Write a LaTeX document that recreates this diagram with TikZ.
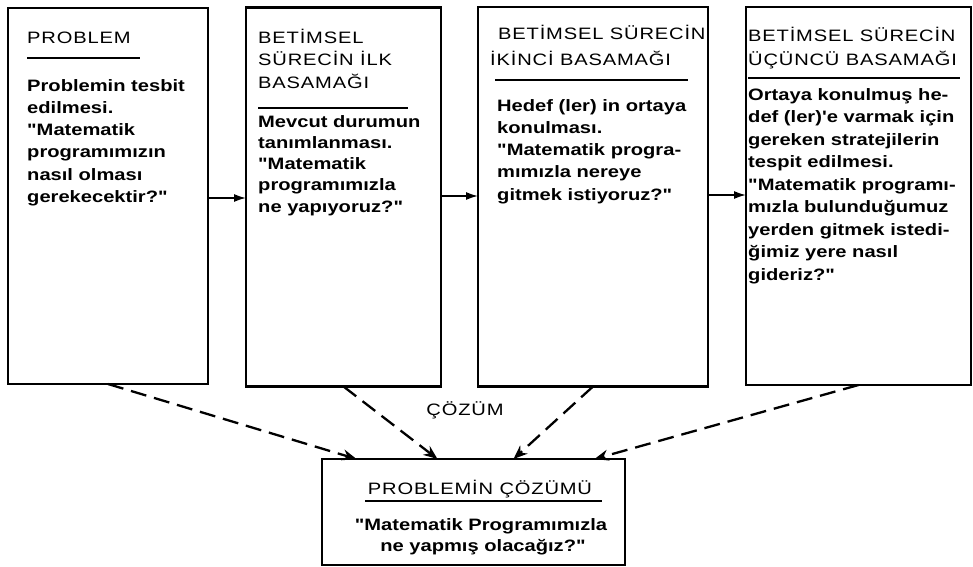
\documentclass[tikz,border=0pt]{standalone}
\usepackage{fontspec}
\setmainfont{Liberation Sans}[FakeStretch=1.22,Ligatures=TeXOff]
\newfontfamily\headfont{Liberation Sans}[FakeStretch=1.22,LetterSpace=5,Ligatures=TeXOff]
\usetikzlibrary{arrows.meta}
\newcommand\Lh[1]{\hbox{#1}}
\tikzset{
  boxnode/.style={draw, line width=2.2pt, inner sep=0pt, outer sep=0pt},
  headtxt/.style={inner sep=0pt, font=\headfont\fontsize{16.5}{22}\selectfont, anchor=base west},
  bodytxt/.style={inner sep=0pt, font=\bfseries\fontsize{16.5}{22}\selectfont, anchor=base west},
  uline/.style={line width=1.4pt},
  harrow/.style={line width=1.6pt, -{Latex[length=12pt,width=8pt]}},
  darrow/.style={line width=2.3pt, dash pattern=on 16pt off 8pt, -{Stealth[length=14pt,width=11pt]}},
}
\begin{document}
\begin{tikzpicture}[x=1pt,y=-1pt]
\useasboundingbox (0,0) rectangle (973,566);
% boxes
\node[boxnode, minimum width=200, minimum height=376] (b1) at (108,196) {};
\node[boxnode, minimum width=195, minimum height=379] (b2) at (343.5,197) {};
\node[boxnode, minimum width=230, minimum height=379.5] (b3) at (593,196.75) {};
\node[boxnode, minimum width=225, minimum height=378] (b4) at (858.5,196) {};
\node[boxnode, minimum width=303, minimum height=106] (b5) at (473.5,512) {};
% box 1
\node[headtxt] (h1) at (27,43) {PROBLEM};
\draw[uline] (27,58) -- (140,58);
\node[bodytxt] (t1) at (27,91) {\vtop{\baselineskip=22.3pt
  \Lh{Problemin tesbit}\Lh{edilmesi.}\Lh{"Matematik}\Lh{programımızın}\Lh{nasıl olması}\Lh{gerekecektir?"}}};
% box 2
\node[headtxt] (h2) at (258,43) {\vtop{\baselineskip=22.5pt
  \Lh{BETİMSEL}\Lh{SÜRECİN İLK}\Lh{BASAMAĞI}}};
\draw[uline] (258,108) -- (408,108);
\node[bodytxt] (t2) at (258,127) {\vtop{\baselineskip=21.3pt
  \Lh{Mevcut durumun}\Lh{tanımlanması.}\Lh{"Matematik}\Lh{programımızla}\Lh{ne yapıyoruz?"}}};
% box 3
\node[headtxt] (h3) at (498,39) {\vtop{\baselineskip=26pt
  \Lh{BETİMSEL SÜRECİN}\Lh{\kern-8pt İKİNCİ BASAMAĞI}}};
\draw[uline] (495,80) -- (688,80);
\node[bodytxt] (t3) at (497,111) {\vtop{\baselineskip=22.3pt
  \Lh{Hedef (ler) in ortaya}\Lh{konulması.}\Lh{"Matematik progra-}\Lh{mımızla nereye}\Lh{gitmek istiyoruz?"}}};
% box 4
\node[headtxt] (h4) at (748,41) {\vtop{\baselineskip=24pt
  \Lh{BETİMSEL SÜRECİN}\Lh{ÜÇÜNCÜ BASAMAĞI}}};
\draw[uline] (748,78) -- (960,78);
\node[bodytxt] (t4) at (748,100) {\vtop{\baselineskip=22.5pt
  \Lh{Ortaya konulmuş he-}\Lh{def (ler)'e varmak için}\Lh{gereken stratejilerin}\Lh{tespit edilmesi.}\Lh{"Matematik programı-}\Lh{mızla bulunduğumuz}\Lh{yerden gitmek istedi-}\Lh{ğimiz yere nasıl}\Lh{gideriz?"}}};
% bottom box
\node[headtxt, anchor=base] (h5) at (480,494) {PROBLEMİN ÇÖZÜMÜ};
\draw[uline] (365,501) -- (602,501);
\node[bodytxt, anchor=base] (t5) at (481,530) {\vtop{\baselineskip=21.5pt
  \halign{\hfil#\hfil\cr "Matematik Programımızla\cr \kern4pt ne yapmış olacağız?"\cr}}};
% label
\node[headtxt, anchor=base] (cz) at (465,415) {ÇÖZÜM};
% horizontal arrows
\coordinate (r1) at (0,198);
\coordinate (r2) at (0,196);
\coordinate (r3) at (0,195);
\draw[harrow] (b1.east |- r1) -- (b2.west |- r1);
\draw[harrow] (b2.east |- r2) -- (b3.west |- r2);
\draw[harrow] (b3.east |- r3) -- (b4.west |- r3);
% dashed arrows
\draw[darrow] (b1.south) -- ([xshift=-117pt]b5.north);
\draw[darrow] (b2.south) -- ([xshift=-36pt]b5.north);
\draw[darrow] (b3.south) -- ([xshift=40pt]b5.north);
\draw[darrow] (b4.south) -- ([xshift=121pt]b5.north);
\end{tikzpicture}
\end{document}
